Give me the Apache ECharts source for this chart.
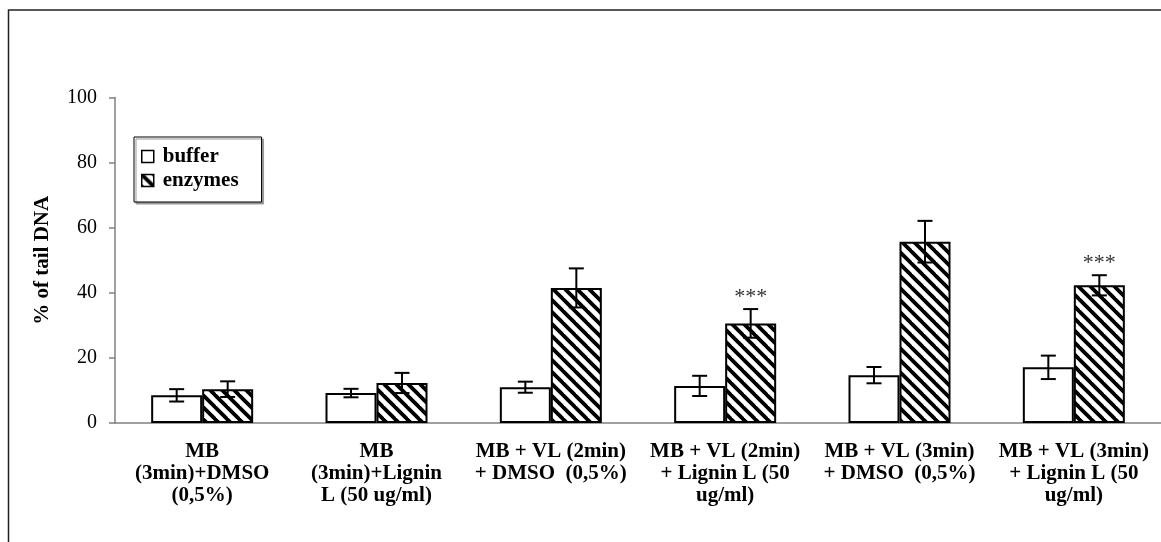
<!DOCTYPE html>
<html>
<head>
<meta charset="utf-8">
<script src="https://cdn.jsdelivr.net/npm/echarts@6/dist/echarts.min.js"></script>
<style>
html,body{margin:0;padding:0;background:#fff;}
#chart{width:1161px;height:542px;}
</style>
</head>
<body>
<div id="chart"></div>
<script>
const categories = [
  'MB\n(3min)+DMSO\n(0,5%)',
  'MB\n(3min)+Lignin\nL (50 ug/ml)',
  'MB + VL (2min)\n+ DMSO  (0,5%)',
  'MB + VL (2min)\n+ Lignin L (50\nug/ml)',
  'MB + VL (3min)\n+ DMSO  (0,5%)',
  'MB + VL (3min)\n+ Lignin L (50\nug/ml)'
];
const bufferValues = [8.5, 9.2, 11.0, 11.4, 14.7, 17.1];
const bufferErrors = [1.9, 1.3, 1.7, 3.1, 2.5, 3.6];
const enzymeValues = [10.4, 12.3, 41.5, 30.6, 55.7, 42.3];
const enzymeErrors = [2.4, 3.1, 6.0, 4.4, 6.4, 3.1];
const enzymeMarks = ['', '', '', '***', '', '***'];
const yTicks = [0, 20, 40, 60, 80, 100];

const SERIF = '"Liberation Serif", "Times New Roman", serif';
const BAR_W = 51;

// diagonal stripe pattern
const pc = document.createElement('canvas');
pc.width = 12; pc.height = 12;
const pctx = pc.getContext('2d');
pctx.fillStyle = '#fff';
pctx.fillRect(0, 0, 12, 12);
pctx.strokeStyle = '#000';
pctx.lineWidth = 3.8;
for (let k = -12; k <= 12; k += 12) {
  pctx.beginPath();
  pctx.moveTo(k - 2, -2);
  pctx.lineTo(k + 14, 14);
  pctx.stroke();
}

function errRender(offset, marks) {
  return function (params, api) {
    const i = api.value(0), v = api.value(1), e = api.value(2);
    const top = api.coord([i, v + e]);
    const bot = api.coord([i, v - e]);
    const x = top[0] + offset;
    const cap = 7.5;
    const st = { stroke: '#000', lineWidth: 2 };
    const children = [
      { type: 'line', shape: { x1: x, y1: top[1], x2: x, y2: bot[1] }, style: st },
      { type: 'line', shape: { x1: x - cap, y1: top[1], x2: x + cap, y2: top[1] }, style: st },
      { type: 'line', shape: { x1: x - cap, y1: bot[1], x2: x + cap, y2: bot[1] }, style: st }
    ];
    if (marks && marks[params.dataIndex]) {
      children.push({
        type: 'text',
        style: {
          text: marks[params.dataIndex], x: x, y: top[1] - 12,
          align: 'center', verticalAlign: 'middle',
          font: '22px ' + SERIF, fill: '#333'
        }
      });
    }
    return { type: 'group', children: children };
  };
}

const chart = echarts.init(document.getElementById('chart'));
chart.setOption({
  backgroundColor: '#fff',
  animation: false,
  grid: { left: 115, right: 0, top: 97.5, bottom: 119, containLabel: false },
  graphic: [{
    type: 'rect', shape: { x: 8.5, y: 10, width: 1300, height: 700 },
    style: { fill: 'none', stroke: '#222', lineWidth: 1.5 }, silent: true, z: 100
  }],
  legend: {
    orient: 'vertical',
    left: 134, top: 137,
    padding: [9, 23, 11, 7],
    itemGap: 3,
    itemWidth: 12, itemHeight: 12,
    icon: 'rect',
    borderColor: '#000', borderWidth: 1,
    shadowColor: '#999', shadowOffsetX: 2, shadowOffsetY: 2, shadowBlur: 0,
    backgroundColor: '#fff',
    itemStyle: { borderColor: '#000', borderWidth: 1.5 },
    textStyle: { fontFamily: SERIF, fontWeight: 'bold', fontSize: 21, color: '#000', padding: [0, 0, 0, 4] },
    data: ['buffer', 'enzymes']
  },
  xAxis: {
    type: 'category',
    data: categories,
    axisLine: { show: true, lineStyle: { color: '#808080', width: 1.5 } },
    axisTick: { show: false },
    axisLabel: {
      interval: 0, margin: 18,
      fontFamily: SERIF, fontWeight: 'bold', fontSize: 21, lineHeight: 22, color: '#000'
    },
    splitLine: { show: false }
  },
  yAxis: {
    type: 'value',
    min: yTicks[0], max: yTicks[yTicks.length - 1], interval: 20,
    name: '% of tail DNA',
    nameLocation: 'middle', nameGap: 62, nameRotate: 90,
    nameTextStyle: { fontFamily: SERIF, fontWeight: 'bold', fontSize: 21, color: '#000' },
    axisLine: { show: true, lineStyle: { color: '#808080', width: 1.5 } },
    axisTick: { show: true, inside: false, length: 6, lineStyle: { color: '#808080', width: 1.5 } },
    axisLabel: { margin: 18, fontFamily: SERIF, fontSize: 20, color: '#000' },
    splitLine: { show: false }
  },
  series: [
    {
      name: 'buffer', type: 'bar', data: bufferValues,
      barWidth: BAR_W, barGap: '0%',
      itemStyle: { color: '#fff', borderColor: '#000', borderWidth: 2 }
    },
    {
      name: 'enzymes', type: 'bar', data: enzymeValues,
      barWidth: BAR_W, barGap: '0%',
      itemStyle: { color: { image: pc, repeat: 'repeat' }, borderColor: '#000', borderWidth: 2 }
    },
    {
      type: 'custom', name: 'bufferErr',
      data: bufferValues.map((v, i) => [i, v, bufferErrors[i]]),
      renderItem: errRender(-BAR_W / 2), z: 5, silent: true
    },
    {
      type: 'custom', name: 'enzymeErr',
      data: enzymeValues.map((v, i) => [i, v, enzymeErrors[i]]),
      renderItem: errRender(BAR_W / 2, enzymeMarks), z: 5, silent: true
    }
  ]
});
</script>
</body>
</html>
